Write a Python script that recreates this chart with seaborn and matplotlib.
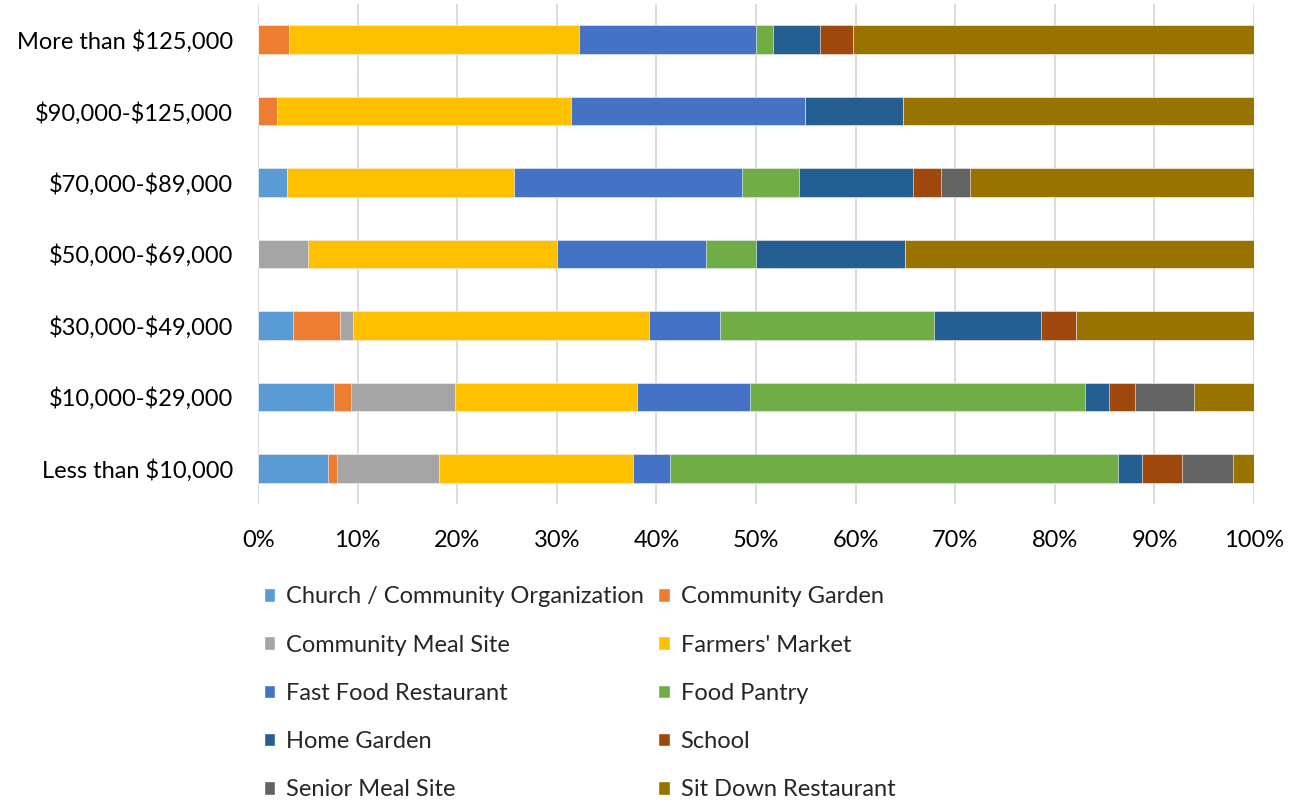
import matplotlib
matplotlib.use("Agg")
import matplotlib.pyplot as plt
import seaborn as sns
import pandas as pd
import numpy as np
from matplotlib.patches import Patch
from matplotlib.ticker import PercentFormatter

# income groups, top to bottom as shown
incomes = ["More than $125,000", "$90,000-$125,000", "$70,000-$89,000",
           "$50,000-$69,000", "$30,000-$49,000", "$10,000-$29,000",
           "Less than $10,000"]

sources = ["Church / Community Organization", "Community Garden",
           "Community Meal Site", "Farmers' Market", "Fast Food Restaurant",
           "Food Pantry", "Home Garden", "School", "Senior Meal Site",
           "Sit Down Restaurant"]

colors = ["#5B9BD5", "#ED7D31", "#A5A5A5", "#FFC000", "#4472C4",
          "#70AD47", "#255E91", "#9E480E", "#636363", "#997300"]

# share (%) of each source per income group, same order as incomes
church   = [0.0, 0.0, 2.86, 0.0, 3.55, 7.64, 6.97]
garden   = [3.15, 1.92, 0.0, 0.0, 4.69, 1.64, 0.91]
meal     = [0.0, 0.0, 0.0, 5.0, 1.24, 10.5, 10.3]
farmers  = [29.1, 29.5, 22.86, 25.0, 29.8, 18.3, 19.5]
fastfood = [17.7, 23.5, 22.86, 15.0, 7.1, 11.3, 3.65]
pantry   = [1.7, 0.0, 5.71, 5.0, 21.5, 33.6, 45.0]
home     = [4.8, 9.8, 11.43, 15.0, 10.7, 2.4, 2.4]
school   = [3.25, 0.0, 2.86, 0.0, 3.5, 2.6, 4.0]
senior   = [0.0, 0.0, 2.86, 0.0, 0.0, 6.0, 5.15]
sitdown  = [40.3, 35.3, 28.56, 35.0, 17.9, 6.0, 2.1]

series = [church, garden, meal, farmers, fastfood, pantry, home, school,
          senior, sitdown]

df = pd.DataFrame(np.array(series).T, columns=sources)
df.insert(0, "Income", incomes)
# normalise each row to 100%
vals = df[sources]
df[sources] = vals.div(vals.sum(axis=1), axis=0) * 100
cum = df[sources].cumsum(axis=1)

sns.set_style("white")
plt.rcParams["font.family"] = ["Lato", "DejaVu Sans"]
plt.rcParams["text.parse_math"] = False

fig = plt.figure(figsize=(12.97, 8.0), dpi=100)
ax = fig.add_axes([0.199, 0.37, 0.7679, 0.625])

# stacked bars: draw cumulative totals from the last source back to the first
for i in range(len(sources) - 1, -1, -1):
    sns.barplot(x=cum[sources[i]], y=df["Income"], order=incomes,
                color=colors[i], orient="h", width=0.4, ax=ax,
                saturation=1, edgecolor="white", linewidth=0.4)

ax.set_xlim(0, 100)
ax.set_xticks(range(0, 101, 10))
ax.xaxis.set_major_formatter(PercentFormatter(decimals=0))
ax.grid(axis="x", color="#D9D9D9", linewidth=1.3)
ax.set_axisbelow(True)
for s in ax.spines.values():
    s.set_visible(False)
ax.set_xlabel("")
ax.set_ylabel("")
ax.tick_params(axis="x", length=0, pad=19, labelsize=17, colors="black")
ax.tick_params(axis="y", length=0, pad=18, labelsize=17, colors="black")

# legend, filled row by row like the original
handles = [Patch(facecolor=c) for c in colors]
order = [0, 2, 4, 6, 8, 1, 3, 5, 7, 9]
fig.legend([handles[k] for k in order], [sources[k] for k in order],
           ncol=2, loc="upper left", bbox_to_anchor=(0.196, 0.279),
           frameon=False, fontsize=17, handlelength=0.5, handleheight=0.5,
           handletextpad=0.45, labelspacing=1.155, columnspacing=0.6,
           borderaxespad=0)

fig.savefig("out.png", dpi=100)
